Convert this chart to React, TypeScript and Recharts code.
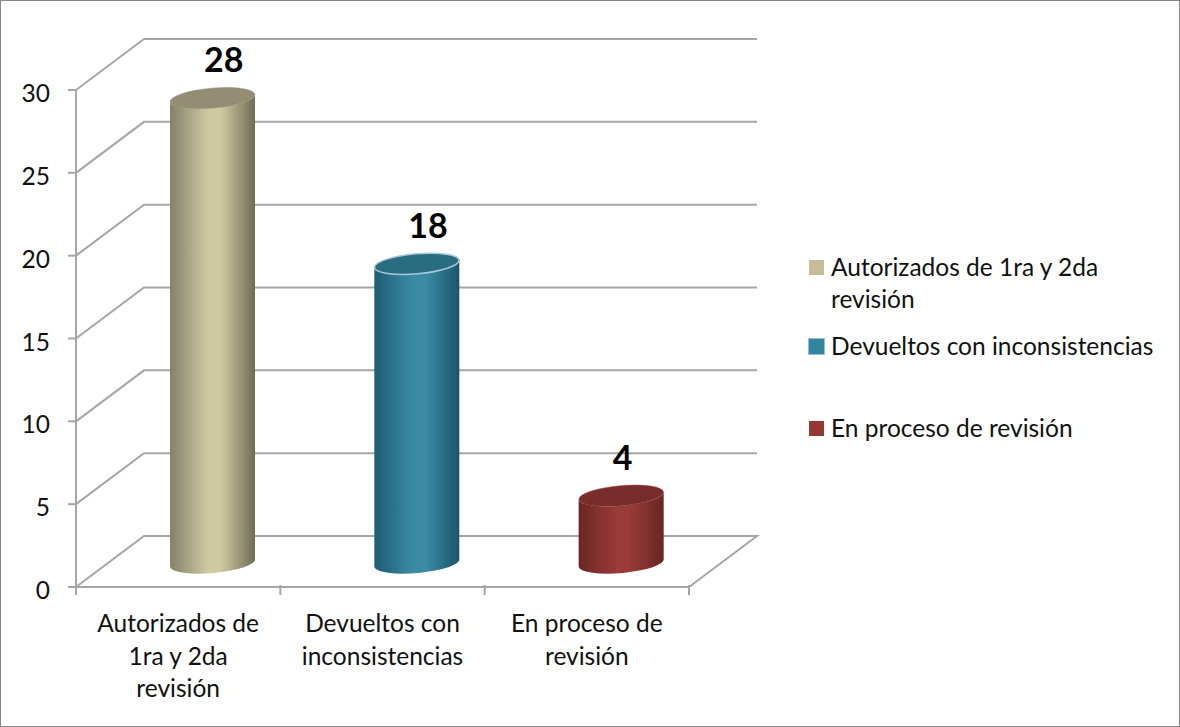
import { BarChart, Bar, XAxis, YAxis, CartesianGrid, LabelList, Legend } from "recharts";

const CATEGORIAS = ["Autorizados de 1ra y 2da revisión", "Devueltos con inconsistencias", "En proceso de revisión"];
const LINEAS_X = [
  ["Autorizados de", "1ra y 2da", "revisión"],
  ["Devueltos con", "inconsistencias"],
  ["En proceso de", "revisión"],
];
const VALORES = [28, 18, 4];
const TICKS_Y = [0, 5, 10, 15, 20, 25, 30];
const COLORES = ["#c4bd97", "#31859c", "#953735"];
const TAPAS = ["#928d73", "#2a6c80", "#772d2b"];
const BORDES_CILINDRO = ["#928d73", "#a9c6de", "#953735"];
const LADOS = [
  ["#85816a", "#cfc9a2", "#6f6c55"],
  ["#1f5c70", "#3a8ba4", "#1c566a"],
  ["#692826", "#9a3a38", "#672725"],
];

const data = CATEGORIAS.map((nombre, i) => ({ nombre, valor: VALORES[i] }));

const FUENTE = "Lato, sans-serif";
const TAM = 24.5;
const TEXTO = "#111";
const GRIS = "#a6a6a6";
const DX = 68; // profundidad del piso / pared
const DY = 51;
const ANCHO = 1180;
const ALTO = 727;
const ALTO_FILAS_LEYENDA = [79, 82, 40];

function LineaGrid(props: any) {
  const { x1, x2, y1 } = props;
  const esPiso = y1 > 580;
  const d = esPiso
    ? `M${x1},${y1} L${x1 + DX},${y1 - DY} L${x2 + DX},${y1 - DY} L${x2},${y1}`
    : `M${x1},${y1} L${x1 + DX},${y1 - DY} L${x2 + DX},${y1 - DY}`;
  return <path d={d} fill="none" stroke={GRIS} strokeWidth={2} />;
}

function Cilindro(props: any) {
  const { x, y, width, height, index } = props;
  const rx = width / 2;
  const ry = 10;
  const cx = x + rx + 34;
  const arriba = y - 25;
  const abajo = y + height - 24;
  const inc = 4;
  const cuerpo =
    `M${cx - rx},${arriba + inc} L${cx - rx},${abajo + inc} ` +
    `A${rx},${ry} -5 0 0 ${cx + rx},${abajo - inc} L${cx + rx},${arriba - inc} ` +
    `A${rx},${ry} -5 0 1 ${cx - rx},${arriba + inc} Z`;
  return (
    <g filter="url(#suave)">
      <path d={cuerpo} fill={`url(#lado${index})`} />
      <ellipse
        cx={cx}
        cy={arriba}
        rx={rx}
        ry={ry}
        transform={`rotate(-5 ${cx} ${arriba})`}
        fill={TAPAS[index]}
        stroke={BORDES_CILINDRO[index]}
        strokeWidth={index === 1 ? 1.5 : 0.5}
      />
    </g>
  );
}

function TickX(props: any) {
  const { x, y, index } = props;
  const mitad = 204.33 / 2;
  const base = y - 10;
  return (
    <g>
      <line x1={x - mitad} x2={x - mitad} y1={base} y2={base + 10} stroke={GRIS} strokeWidth={2} />
      {index === CATEGORIAS.length - 1 && (
        <line x1={x + mitad} x2={x + mitad} y1={base} y2={base + 10} stroke={GRIS} strokeWidth={2} />
      )}
      <text textAnchor="middle" fontFamily={FUENTE} fontSize={TAM} fill={TEXTO}>
        {LINEAS_X[index].map((l, i) => (
          <tspan key={l} x={x} y={base + 47 + i * 32.5}>
            {l}
          </tspan>
        ))}
      </text>
    </g>
  );
}

function TickY(props: any) {
  const { x, y, payload } = props;
  return (
    <text x={x} y={y + 12} textAnchor="end" fontFamily={FUENTE} fontSize={TAM} fill={TEXTO}>
      {payload.value}
    </text>
  );
}

function Etiqueta(props: any) {
  const { x, y, value } = props;
  return (
    <text x={x + 68} y={y - 51} fontFamily={FUENTE} fontSize={34} fontWeight={700} fill="#000">
      {value}
    </text>
  );
}

function Leyenda() {
  return (
    <div style={{ fontFamily: FUENTE, fontSize: TAM, lineHeight: "32px", color: TEXTO, width: 350 }}>
      {CATEGORIAS.map((c, i) => (
        <div key={c} style={{ height: ALTO_FILAS_LEYENDA[i], position: "relative", paddingLeft: 22, width: 328 }}>
          <span
            style={{
              position: "absolute",
              left: 0,
              top: 9,
              width: 15,
              height: 15,
              background: COLORES[i],
              outline: i === 1 ? "1px solid #9dbbd6" : "none",
            }}
          />
          {c}
        </div>
      ))}
    </div>
  );
}

export default function App() {
  return (
    <div
      style={{
        position: "absolute",
        left: 0,
        top: 0,
        width: ANCHO,
        height: ALTO,
        boxSizing: "border-box",
        border: "1px solid #868686",
        background: "#fff",
      }}
    >
      <div style={{ position: "absolute", left: -1, top: -1 }}>
        <BarChart width={ANCHO} height={ALTO} data={data} margin={{ top: 90, right: 141, left: 0, bottom: 0 }}>
          <defs>
            <filter id="suave" x="-5%" y="-5%" width="110%" height="110%">
              <feGaussianBlur stdDeviation="0.6" />
            </filter>
            {LADOS.map((c, i) => (
              <linearGradient key={i} id={`lado${i}`} x1="0" y1="0" x2="1" y2="0">
                <stop offset="0%" stopColor={c[0]} />
                <stop offset="45%" stopColor={c[1]} />
                <stop offset="60%" stopColor={c[1]} />
                <stop offset="100%" stopColor={c[2]} />
              </linearGradient>
            ))}
          </defs>
          <CartesianGrid vertical={false} horizontal={(p: any) => <LineaGrid key={p.key} {...p} />} />
          <XAxis
            dataKey="nombre"
            height={140}
            interval={0}
            tickLine={false}
            axisLine={{ stroke: GRIS, strokeWidth: 2 }}
            tick={<TickX />}
          />
          <YAxis
            width={76}
            domain={[0, 30]}
            ticks={TICKS_Y}
            tickSize={8}
            tickMargin={18}
            tickLine={{ stroke: GRIS, strokeWidth: 2 }}
            axisLine={{ stroke: GRIS, strokeWidth: 2 }}
            tick={<TickY />}
          />
          <Legend
            layout="vertical"
            align="right"
            verticalAlign="top"
            content={<Leyenda />}
            wrapperStyle={{ left: 809, top: 251, width: 350 }}
          />
          <Bar dataKey="valor" barSize={85} shape={<Cilindro />} isAnimationActive={false}>
            <LabelList dataKey="valor" content={<Etiqueta />} />
          </Bar>
        </BarChart>
      </div>
    </div>
  );
}
